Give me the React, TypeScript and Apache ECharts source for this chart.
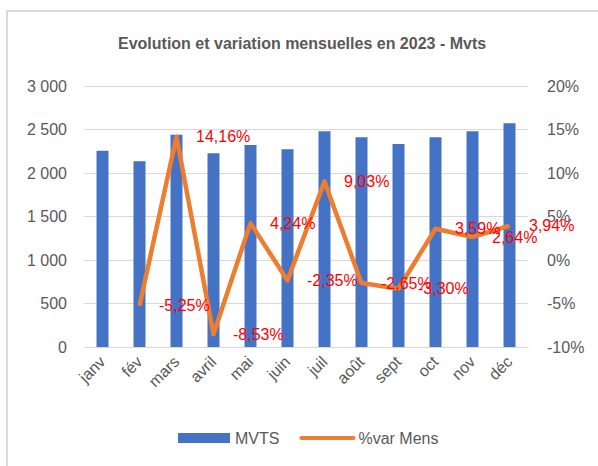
import React, { useEffect, useRef } from "react";
import * as echarts from "echarts";

const months = ["janv", "fév", "mars", "avril", "mai", "juin", "juil", "août", "sept", "oct", "nov", "déc"];
const mvts = [2257, 2135, 2441, 2227, 2323, 2273, 2480, 2411, 2334, 2411, 2480, 2572];
const varMens: (number | null)[] = [null, -5.25, 14.16, -8.53, 4.24, -2.35, 9.03, -2.65, -3.3, 3.59, 2.64, 3.94];
const leftTicks = { min: 0, max: 3000, interval: 500 };
const rightTicks = { min: -10, max: 20, interval: 5 };

const FONT = "'Liberation Sans', Arial, sans-serif";
const GREY = "#595959";

export default function App() {
  const ref = useRef<HTMLDivElement>(null);
  useEffect(() => {
    if (!ref.current) return;
    const chart = echarts.init(ref.current, undefined, { renderer: "svg" });
    chart.setOption({
      animation: false,
      backgroundColor: "#ffffff",
      textStyle: { fontFamily: FONT },
      title: {
        text: "Evolution et variation mensuelles en 2023 - Mvts",
        left: 113,
        top: 30,
        textStyle: { fontFamily: FONT, fontSize: 16, fontWeight: "bold", color: GREY },
      },
      graphic: [
        {
          type: "rect",
          shape: { x: 7, y: 11, width: 640, height: 520 },
          style: { fill: "none", stroke: "#d0d0d0", lineWidth: 1.5 },
          silent: true,
        },
      ],
      legend: {
        bottom: 15,
        left: 173,
        itemGap: 20,
        itemWidth: 52,
        itemHeight: 10,
        textStyle: { fontFamily: FONT, fontSize: 16, color: GREY },
        data: [
          { name: "MVTS", icon: "rect" },
          { name: "%var Mens", itemStyle: { opacity: 0 }, lineStyle: { width: 4, cap: "round" } },
        ],
      },
      grid: { left: 84, right: 70, top: 86, bottom: 119 },
      xAxis: {
        type: "category",
        data: months,
        axisTick: { show: false },
        axisLine: { lineStyle: { color: "#d9d9d9", width: 1 } },
        axisLabel: { rotate: 45, color: GREY, fontSize: 16, fontFamily: FONT, margin: 12, interval: 0 },
      },
      yAxis: [
        {
          type: "value",
          min: leftTicks.min,
          max: leftTicks.max,
          interval: leftTicks.interval,
          axisLine: { show: false },
          axisTick: { show: false },
          splitLine: { lineStyle: { color: "#d9d9d9", width: 1 } },
          axisLabel: {
            color: GREY,
            fontSize: 16,
            fontFamily: FONT,
            margin: 17,
            formatter: (v: number) => v.toLocaleString("fr-FR").replace(/\u202f|\u00a0/g, " "),
          },
        },
        {
          type: "value",
          min: rightTicks.min,
          max: rightTicks.max,
          interval: rightTicks.interval,
          axisLine: { show: false },
          axisTick: { show: false },
          splitLine: { show: false },
          axisLabel: {
            color: GREY,
            fontSize: 16,
            fontFamily: FONT,
            margin: 19,
            formatter: (v: number) => `${v}%`,
          },
        },
      ],
      series: [
        {
          name: "MVTS",
          type: "bar",
          data: mvts,
          barWidth: 12,
          itemStyle: { color: "#4472c4" },
        },
        {
          name: "%var Mens",
          type: "line",
          yAxisIndex: 1,
          data: varMens,
          symbol: "circle",
          symbolSize: 1,
          showSymbol: true,
          lineStyle: { color: "#ed7d31", width: 4.5, join: "round" },
          itemStyle: { color: "#ed7d31" },
          label: {
            show: true,
            position: "right",
            distance: 19,
            color: "#ff0000",
            fontSize: 16,
            fontFamily: FONT,
            formatter: (p: any) => (p.value == null ? "" : `${p.value.toFixed(2).replace(".", ",")}%`),
          },
        },
      ],
    });
    return () => chart.dispose();
  }, []);
  return (
    <div
      ref={ref}
      style={{ position: "fixed", left: 0, top: 0, width: 598, height: 466 }}
    />
  );
}
